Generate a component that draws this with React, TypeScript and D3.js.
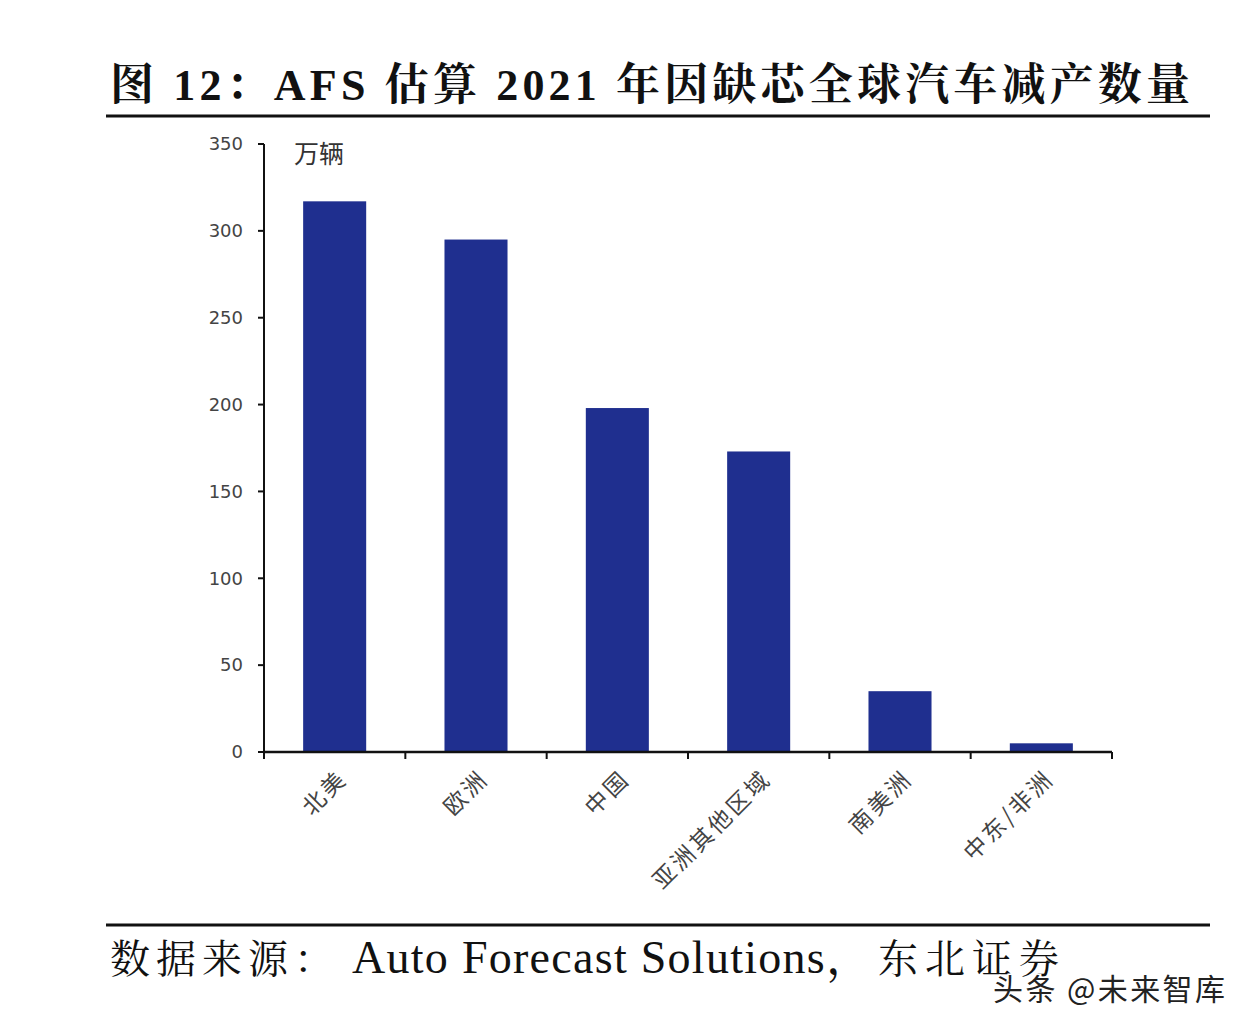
import React from "react";
import * as d3 from "d3";

const categories = ["北美", "欧洲", "中国", "亚洲其他区域", "南美洲", "中东/非洲"];
const values = [317, 295, 198, 173, 35, 5];
const yTicks = [0, 50, 100, 150, 200, 250, 300, 350];
const titleText = "图  12：AFS 估算 2021 年因缺芯全球汽车减产数量";
const unitText = "万辆";
const sourceLabel = "数据来源：";
const sourceOrg = "Auto Forecast Solutions，";
const sourceBroker = "东北证券";
const watermark = "头条 @未来智库";

export default function App() {
  const W = 1254, H = 1032;
  const x0 = 264, x1 = 1112, y0 = 752, y1 = 144;
  const x = d3.scaleBand<string>().domain(categories).range([x0, x1]).paddingInner(0.554).paddingOuter(0.277);
  const y = d3.scaleLinear().domain([0, 350]).range([y0, y1]);
  const band = (x1 - x0) / categories.length;
  const bounds = d3.range(categories.length + 1).map((i) => x0 + i * band);
  const cjkSans = "'Noto Sans CJK SC', 'Noto Sans', sans-serif";
  const serif = "'Liberation Serif', 'Noto Serif CJK SC', 'Noto Sans CJK SC', serif";
  return (
    <svg width={W} height={H} style={{ position: "absolute", left: 0, top: 0, background: "#fff" }}>
      <rect x={0} y={0} width={W} height={H} fill="#fff" />
      <text x={110} y={100} fontFamily={serif} fontWeight="bold" fontSize={44} fill="#111"
        textLength={1080} lengthAdjust="spacing">{titleText}</text>
      <line x1={106} x2={1210} y1={116} y2={116} stroke="#111" strokeWidth={3} />
      {categories.map((c, i) => (
        <rect key={c} x={x(c)} y={y(values[i])} width={x.bandwidth()} height={y(0) - y(values[i])} fill="#1f2f8f" />
      ))}
      <line x1={x0} x2={x0} y1={y1} y2={y0} stroke="#111" strokeWidth={2} />
      {yTicks.map((t) => (
        <g key={t}>
          <line x1={x0 - 6} x2={x0} y1={y(t)} y2={y(t)} stroke="#111" strokeWidth={2} />
          <text x={243} y={y(t)} dy="0.35em" textAnchor="end" fontFamily="'DejaVu Sans', sans-serif" fontSize={18} fill="#444">{t}</text>
        </g>
      ))}
      <text x={294} y={163} fontFamily={cjkSans} fontSize={25} fill="#333">{unitText}</text>
      <line x1={x0} x2={x1} y1={y0} y2={y0} stroke="#111" strokeWidth={2.5} />
      {bounds.map((b, i) => (
        <line key={i} x1={b} x2={b} y1={y0} y2={y0 + 7} stroke="#111" strokeWidth={2} />
      ))}
      {categories.map((c) => {
        const cx = (x(c) as number) + x.bandwidth() / 2 + 14;
        const cy = 780;
        return (
          <text key={c} transform={`translate(${cx},${cy}) rotate(-45)`} textAnchor="end" fontFamily={cjkSans}
            fontSize={23} letterSpacing={3} fill="#444">{c}</text>
        );
      })}
      <line x1={106} x2={1210} y1={925} y2={925} stroke="#111" strokeWidth={3} />
      <text x={110} y={973} fontFamily={serif} fontSize={40} fill="#111" letterSpacing={6}>{sourceLabel}</text>
      <text x={352} y={973} fontFamily={serif} fontSize={46} fill="#111" textLength={520} lengthAdjust="spacing">{sourceOrg}</text>
      <text x={878} y={973} fontFamily={serif} fontSize={40} fill="#111" letterSpacing={7}>{sourceBroker}</text>
      <text x={993} y={1000} fontFamily={cjkSans} fontSize={30} fill="#222" stroke="#fff" strokeWidth={3}
        paintOrder="stroke" textLength={232} lengthAdjust="spacing">{watermark}</text>
    </svg>
  );
}
